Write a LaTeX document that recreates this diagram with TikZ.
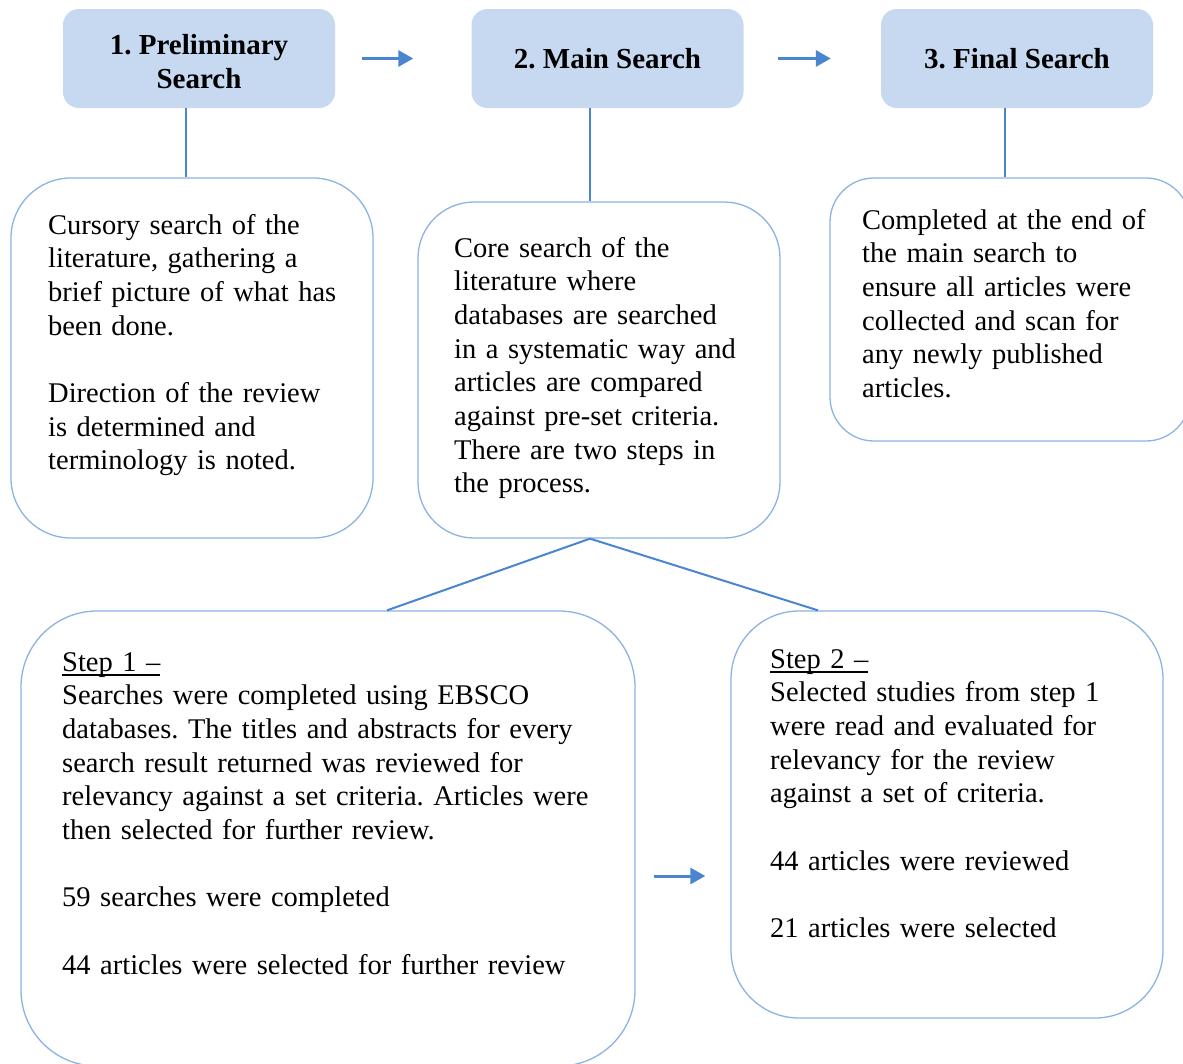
\documentclass[tikz,border=0pt]{standalone}
\usepackage{fontspec}
\setmainfont{Liberation Serif}
\usetikzlibrary{arrows.meta}
\definecolor{hdrfill}{RGB}{198,217,241}
\definecolor{boxline}{RGB}{141,179,226}
\definecolor{conn}{RGB}{74,134,208}
\newcommand\stepul[1]{\setbox0\hbox{#1}\rlap{\rule[-4.5pt]{\wd0}{1.3pt}}\box0}
\frenchspacing
\begin{document}
\begin{tikzpicture}[x=1pt,y=-1pt,
  hdr/.style={fill=hdrfill, rounded corners=16pt, inner sep=0pt, minimum width=272pt, minimum height=99pt, font=\fontsize{29}{34}\selectfont\bfseries, align=center},
  txtbox/.style={draw=boxline, line width=1.3pt, inner sep=0pt},
  body/.style={anchor=base west, inner sep=0pt, text width=700pt, align=left, font=\fontsize{28.5}{33.7}\selectfont\frenchspacing},
  link/.style={draw=conn, line width=2pt},
  flow/.style={draw=conn, line width=3pt, -{Triangle[length=15pt,width=16pt]}}]
\useasboundingbox (0,0) rectangle (1183,1063);
\clip (0,0) rectangle (1183,1063);
\fill[white] (0,0) rectangle (1183,1063);

% header boxes
\node[hdr] (p1) at (199,58.5) {\rule{0pt}{26pt}1. Preliminary\\Search};
\node[hdr] (p2) at (607.5,58.5) {2. Main Search};
\node[hdr] (p3) at (1017,58.5) {3. Final Search};

% text boxes
\node[txtbox, rounded corners=60pt, minimum width=362pt, minimum height=360pt] (A) at (192,358) {};
\node[txtbox, rounded corners=56pt, minimum width=362pt, minimum height=336pt] (B) at (599,370) {};
\node[txtbox, rounded corners=44pt, minimum width=360pt, minimum height=263pt] (C) at (1010,309.5) {};
\node[txtbox, rounded corners=76pt, minimum width=614pt, minimum height=455pt] (D) at (328,838.5) {};
\node[txtbox, rounded corners=68pt, minimum width=432pt, minimum height=407pt] (E) at (947,814.5) {};

% texts
\node[body] (tA) at (48,234) {Cursory search of the\\literature, gathering a\\brief picture of what has\\been done.\\[33.7pt]Direction of the review\\is determined and\\terminology is noted.};
\node[body] (tB) at (454,257) {Core search of the\\literature where\\databases are searched\\in a systematic way and\\articles are compared\\against pre-set criteria.\\There are two steps in\\the process.};
\node[body] (tC) at (862,229) {Completed at the end of\\the main search to\\ensure all articles were\\collected and scan for\\any newly published\\articles.};
\node[body] (tD) at (62,671) {\stepul{Step 1 –}\\Searches were completed using EBSCO\\databases. The titles and abstracts for every\\search result returned was reviewed for\\relevancy against a set criteria. Articles were\\then selected for further review.\\[33.7pt]59 searches were completed\\[33.7pt]44 articles were selected for further review};
\node[body] (tE) at (770,668) {\stepul{Step 2 –}\\Selected studies from step 1\\were read and evaluated for\\relevancy for the review\\against a set of criteria.\\[33.7pt]44 articles were reviewed\\[33.7pt]21 articles were selected};

% connectors
\draw[link] ([xshift=-13pt]p1.south) -- ([xshift=-13pt]p1.south |- A.north);
\draw[link] ([xshift=-17.5pt]p2.south) -- ([xshift=-17.5pt]p2.south |- B.north);
\draw[link] ([xshift=-12pt]p3.south) -- ([xshift=-12pt]p3.south |- C.north);
\draw[link] ([xshift=-9pt]B.south) -- ([xshift=59pt]D.north);
\draw[link] ([xshift=-9pt]B.south) -- ([xshift=-129pt]E.north);
\draw[flow] ([xshift=27pt]p1.east) -- ([xshift=-58pt]p2.west);
\draw[flow] ([xshift=34pt]p2.east) -- ([xshift=-50pt]p3.west);
\coordinate (a3s) at ([shift={(18pt,-37.5pt)}]D.east);
\draw[flow] (a3s) -- ([xshift=-25pt]a3s -| E.west);
\end{tikzpicture}
\end{document}
